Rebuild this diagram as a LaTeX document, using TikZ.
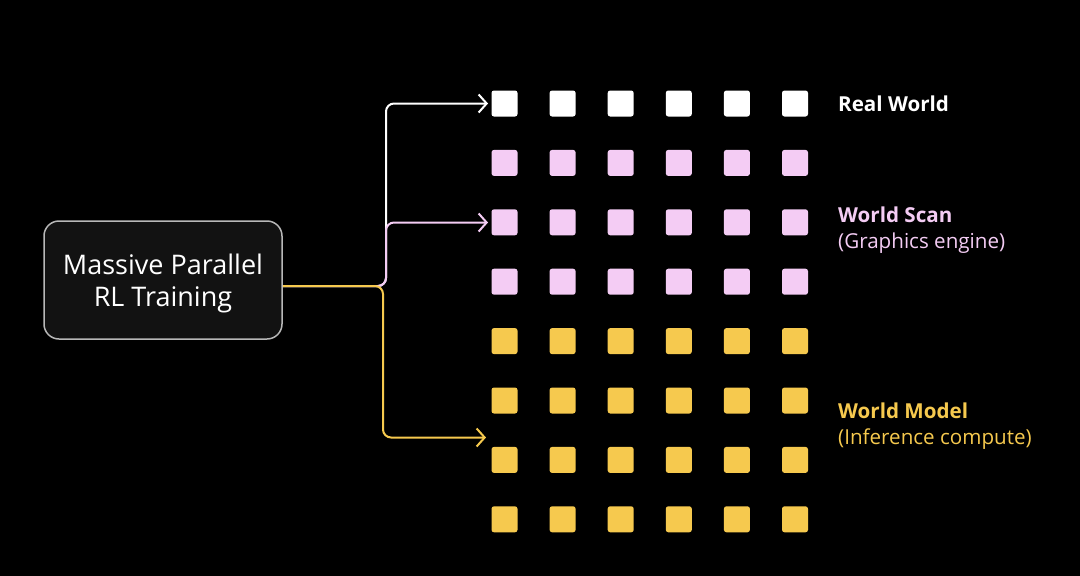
\documentclass[tikz,border=0pt]{standalone}
\usepackage{fontspec}
\setmainfont{Open Sans}
\usetikzlibrary{arrows.meta}
\definecolor{pinkc}{HTML}{F4CCF4}
\definecolor{gold}{HTML}{F6C94E}
\definecolor{boxgray}{HTML}{B8B8B8}
\definecolor{boxfill}{HTML}{121212}
\begin{document}
\begin{tikzpicture}[x=1pt,y=-1pt,
  sq/.style={minimum size=26pt,inner sep=0pt,rounded corners=2.5pt,draw=none},
  conn/.style={line width=2pt,rounded corners=8pt,-{Straight Barb[length=8pt,width=18pt,line width=2pt]}},
  lbl/.style={anchor=west,align=left,inner sep=0pt,font=\fontsize{20.6}{26}\selectfont},
]
\fill[black] (0,0) rectangle (1080,576);
\useasboundingbox (0,0) rectangle (1080,576);
% grid
\foreach \r/\col in {1/white,2/pinkc,3/pinkc,4/pinkc,5/gold,6/gold,7/gold,8/gold}{
  \foreach \c in {1,...,6}{
    \node[sq,fill=\col] (s-\r-\c) at ({504.5+(\c-1)*58.1},{103.5+(\r-1)*59.4}) {};
  }
}
% box
\node[draw=boxgray,fill=boxfill,rounded corners=15pt,line width=1.5pt,
  minimum width=238pt,minimum height=118pt] (train) at (163,280) {};
\node[align=center,text=white,inner sep=0pt,
  font=\fontsize{27}{32}\selectfont] (traintext) at ([yshift=-3pt]train.center) {Massive Parallel\\RL Training};
% connectors
\coordinate (jw) at (386,286);
\coordinate (jo) at (383,286);
\coordinate (tw) at (488,103.5);
\coordinate (tp) at (488,222.5);
\coordinate (to) at (486,437.5);
\draw[conn,white] (train.east |- jw) -- (jw) |- (tw);
\draw[conn,pinkc] (train.east |- jw) -- (jw) |- (tp);
\draw[conn,gold] (train.east |- jo) -- (jo) |- (to);
% labels
\node[lbl,text=white,font=\fontsize{20.6}{26}\selectfont\bfseries] (lr) at (838,104) {Real World};
\node[lbl,text=pinkc] (ls) at (838,230) {\textbf{World Scan}\\(Graphics engine)};
\node[lbl,text=gold] (lm) at (838,426) {\textbf{World Model}\\(Inference compute)};
\end{tikzpicture}
\end{document}
